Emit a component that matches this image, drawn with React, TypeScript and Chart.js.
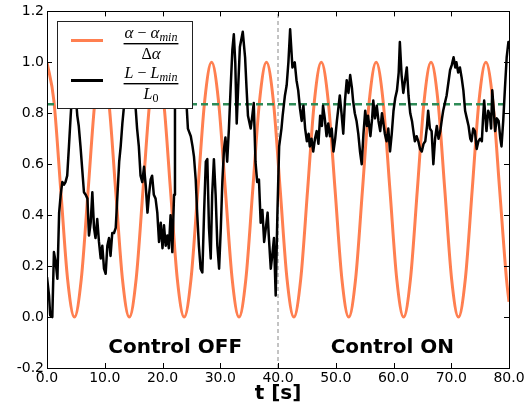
import React, { useEffect, useRef } from "react";
import { Chart, registerables } from "chart.js";
Chart.register(...registerables);

// ---- data ----
const blackT = [
  0.0, 0.35, 0.55, 0.92, 1.2, 1.5, 1.8, 2.1, 2.37, 2.65,
  2.94, 3.2, 3.5, 3.8, 4.1, 4.4, 4.7, 5.0, 5.25, 5.5,
  5.8, 6.1, 6.4, 6.7, 7.0, 7.27, 7.56, 7.85, 8.14, 8.4,
  8.7, 9.0, 9.3, 9.58, 9.87, 10.16, 10.45, 10.74, 11.0, 11.3,
  11.6, 11.9, 12.2, 12.5, 12.76, 13.05, 13.3, 13.7, 14.2, 14.7,
  15.35, 15.6, 15.9, 16.2, 16.5, 16.8, 17.1, 17.4, 17.66, 17.95,
  18.2, 18.5, 18.8, 19.1, 19.4, 19.7, 20.0, 20.26, 20.55, 20.84,
  21.1, 21.4, 21.7, 22.0, 22.16, 22.5, 23.0, 23.6, 24.2, 24.4,
  24.9, 25.2, 25.45, 25.75, 26.0, 26.3, 26.6, 26.9, 27.2, 27.5,
  27.76, 28.05, 28.35, 28.6, 28.9, 29.2, 29.5, 29.8, 30.1, 30.36,
  30.65, 30.9, 31.2, 31.5, 31.8, 32.1, 32.35, 32.6, 32.85, 33.1,
  33.4, 33.9, 34.3, 34.55, 34.8, 35.27, 35.55, 35.8, 36.1, 36.4,
  36.7, 37.0, 37.3, 37.6, 37.9, 38.2, 38.4, 38.75, 39.0, 39.3,
  39.6, 39.9, 40.2, 40.6, 40.8,
  41.2, 41.5, 41.8, 42.1, 42.5, 42.9, 43.2, 43.5,
  43.8, 44.1, 44.4, 44.7, 45.0, 45.3, 45.5, 45.8, 46.1, 46.4, 46.7, 47.0, 47.3, 47.6, 47.8, 48.1, 48.4, 48.7, 49.0, 49.3,
  49.6, 49.9, 50.2, 50.5, 50.7, 51.0, 51.3, 51.6, 51.9, 52.2, 52.5, 52.8, 53.0, 53.3, 53.6, 53.9, 54.2, 54.5, 54.8, 55.1,
  55.4, 55.6, 56.0, 56.3, 56.5, 56.8, 57.1, 57.4, 57.7, 58.0, 58.2, 58.5, 58.8, 59.1, 59.4, 59.7, 60.0, 60.3, 60.6, 60.9,
  61.1, 61.4, 61.7, 62.0, 62.3, 62.6, 62.9, 63.2, 63.5, 63.7, 64.0, 64.3, 64.6, 64.9, 65.2, 65.5, 65.8, 66.0, 66.3, 66.6,
  66.9, 67.2, 67.5, 67.8, 68.1, 68.4, 68.6, 68.9, 69.2, 69.5, 69.8, 70.1, 70.4, 70.7, 70.9, 71.2, 71.5, 71.8, 72.1, 72.4,
  72.7, 73.0, 73.3, 73.5, 73.8, 74.1, 74.4, 74.7, 75.0, 75.3, 75.5, 75.7, 76.1, 76.4, 76.7, 76.9, 77.1, 77.4, 77.6, 77.9,
  78.2, 78.5, 78.7, 79.0, 79.3, 79.6, 79.9, 80.0,
];
const blackV = [
  0.157, 0.085, 0.007, 0.0, 0.255, 0.216, 0.15, 0.41, 0.48, 0.53,
  0.52, 0.53, 0.555, 0.67, 0.79, 0.9, 0.93, 0.86, 0.79, 0.75,
  0.67, 0.58, 0.49, 0.48, 0.465, 0.32, 0.37, 0.49, 0.35, 0.31,
  0.385, 0.295, 0.23, 0.28, 0.19, 0.17, 0.28, 0.31, 0.24, 0.33,
  0.33, 0.35, 0.48, 0.61, 0.67, 0.76, 0.82, 0.92, 0.97, 0.92,
  0.82, 0.74, 0.67, 0.555, 0.53, 0.59, 0.515, 0.41, 0.48, 0.54,
  0.555, 0.48, 0.465, 0.41, 0.295, 0.37, 0.27, 0.36, 0.28, 0.32,
  0.27, 0.4, 0.255, 0.48, 0.82, 0.98, 1.02, 0.95, 0.82, 0.74,
  0.71, 0.67, 0.63, 0.54, 0.41, 0.28, 0.19, 0.175, 0.41, 0.61,
  0.62, 0.35, 0.23, 0.48, 0.62, 0.48, 0.28, 0.19, 0.35, 0.53,
  0.66, 0.705, 0.61, 0.74, 0.9, 1.05, 1.11, 1.0, 0.76, 0.9,
  1.06, 1.12, 1.02, 0.9, 0.79, 0.74, 0.79, 0.84, 0.61, 0.53,
  0.54, 0.37, 0.42, 0.295, 0.35, 0.41, 0.32, 0.19, 0.24, 0.31,
  0.085, 0.41, 0.67, 0.74, 0.79,
  0.87, 0.91, 1.0, 1.13, 0.98, 1.0, 0.93, 0.89,
  0.82, 0.77, 0.83, 0.74, 0.69, 0.72, 0.67, 0.7, 0.65, 0.7, 0.73, 0.68, 0.79, 0.75, 0.83, 0.78, 0.71, 0.76, 0.71, 0.74,
  0.65, 0.7, 0.77, 0.83, 0.87, 0.8, 0.72, 0.85, 0.93, 0.88, 0.95, 0.9, 0.85, 0.8, 0.77, 0.72, 0.65, 0.6, 0.72, 0.81,
  0.75, 0.79, 0.71, 0.78, 0.85, 0.78, 0.83, 0.77, 0.73, 0.8, 0.77, 0.72, 0.69, 0.74, 0.65, 0.72, 0.81, 0.86, 0.89, 0.96,
  1.08, 0.95, 0.88, 0.93, 0.98, 0.87, 0.8, 0.77, 0.72, 0.69, 0.71, 0.69, 0.66, 0.65, 0.68, 0.69, 0.75, 0.81, 0.74, 0.73,
  0.6, 0.7, 0.75, 0.7, 0.73, 0.78, 0.81, 0.84, 0.87, 0.92, 0.97, 0.99, 1.02, 0.98, 1.0, 0.96, 0.98, 0.94, 0.89, 0.81,
  0.78, 0.75, 0.7, 0.69, 0.74, 0.73, 0.66, 0.69, 0.7, 0.69, 0.78, 0.85, 0.73, 0.81, 0.79, 0.74, 0.89, 0.8, 0.73, 0.78,
  0.77, 0.7, 0.67, 0.77, 0.9, 1.02, 1.08, 1.05,
];
const orangeT = [
  0, 1.19, 2.38, 3.56, 4.75, 5.94, 7.13, 8.31, 9.5, 10.69, 11.88, 13.06, 14.25, 15.44, 16.63, 17.81,
  19.0, 20.19, 21.38, 22.56, 23.75, 24.94, 26.13, 27.31, 28.5, 29.69, 30.88, 32.06, 33.25, 34.44, 35.63, 36.81,
  38.0, 39.19, 40.38, 41.56, 42.75, 43.94, 45.13, 46.31, 47.5, 48.69, 49.88, 51.06, 52.25, 53.44, 54.63, 55.81,
  57.0, 58.19, 59.38, 60.56, 61.75, 62.94, 64.13, 65.31, 66.5, 67.69, 68.88, 70.06, 71.25, 72.44, 73.63, 74.81,
  76.0, 77.19, 78.38, 79.56, 80.0,
];
const orangeV = [
  1, 0.85, 0.5, 0.15, 0, 0.15, 0.5, 0.85, 1, 0.85, 0.5, 0.15, 0, 0.15, 0.5, 0.85,
  1, 0.85, 0.5, 0.15, 0, 0.15, 0.5, 0.85, 1, 0.85, 0.5, 0.15, 0, 0.15, 0.5, 0.85,
  1, 0.85, 0.5, 0.15, 0, 0.15, 0.5, 0.85, 1, 0.85, 0.5, 0.15, 0, 0.15, 0.5, 0.85,
  1, 0.85, 0.5, 0.15, 0, 0.15, 0.5, 0.85, 1, 0.85, 0.5, 0.15, 0, 0.15, 0.5, 0.85,
  1, 0.85, 0.5, 0.15, 0.06,
];
const greenLevel = 0.835;
const switchTime = 40;
const xRange = [0, 80];
const yRange = [-0.2, 1.2];
const xTickValues = [0, 10, 20, 30, 40, 50, 60, 70, 80];
const yTickValues = [-0.2, 0, 0.2, 0.4, 0.6, 0.8, 1.0, 1.2];
const xTitle = "t [s]";
const phaseLabels = ["Control OFF", "Control ON"];
const phaseLabelX = [22.2, 59.8];
const phaseLabelY = [-0.12, -0.12];

const ORANGE = "#ff7f50";
const GREEN = "#2e8b57";
const SANS = "'DejaVu Sans', sans-serif";
const SERIF = "'Liberation Serif', serif";

type Run = { t: string; size: number; italic: boolean; dy: number };

function drawRuns(ctx: CanvasRenderingContext2D, runs: Run[], cx: number, base: number) {
  const widths = runs.map((r) => {
    ctx.font = `${r.italic ? "italic " : ""}${r.size}px ${SERIF}`;
    return ctx.measureText(r.t).width;
  });
  const total = widths.reduce((a, b) => a + b, 0);
  let x = cx - total / 2;
  runs.forEach((r, i) => {
    ctx.font = `${r.italic ? "italic " : ""}${r.size}px ${SERIF}`;
    ctx.fillText(r.t, x, base + r.dy);
    x += widths[i];
  });
  return total;
}

export default function App() {
  const ref = useRef<HTMLCanvasElement>(null);
  useEffect(() => {
    document.body.style.margin = "0";
    const canvas = ref.current!;
    const overlay = {
      id: "overlay",
      afterDatasetsDraw(chart: any) {
        const { ctx, chartArea: a, scales } = chart;
        const xs = scales.x;
        const ys = scales.y;
        ctx.save();
        // phase labels
        ctx.fillStyle = "#000";
        ctx.font = `bold 20px ${SANS}`;
        ctx.textAlign = "center";
        ctx.textBaseline = "middle";
        phaseLabels.forEach((t, i) => {
          ctx.fillText(t, xs.getPixelForValue(phaseLabelX[i]), ys.getPixelForValue(phaseLabelY[i]));
        });
        // frame
        ctx.strokeStyle = "#000";
        ctx.lineWidth = 1;
        ctx.strokeRect(Math.round(a.left) + 0.5, Math.round(a.top) + 0.5, Math.round(a.right - a.left), Math.round(a.bottom - a.top));
        const line = (x1: number, y1: number, x2: number, y2: number) => {
          ctx.beginPath();
          ctx.moveTo(x1, y1);
          ctx.lineTo(x2, y2);
          ctx.stroke();
        };
        xTickValues.forEach((v) => {
          const p = Math.round(xs.getPixelForValue(v)) + 0.5;
          line(p, a.bottom, p, a.bottom - 5);
          line(p, a.top, p, a.top + 5);
        });
        yTickValues.forEach((v) => {
          const p = Math.round(ys.getPixelForValue(v)) + 0.5;
          line(a.left, p, a.left + 5, p);
          line(a.right, p, a.right - 5, p);
        });
        // legend
        const bx = Math.round(a.left) + 10;
        const by = Math.round(a.top) + 10;
        const bw = 135;
        const bh = 87;
        ctx.fillStyle = "#fff";
        ctx.fillRect(bx, by, bw, bh);
        ctx.strokeStyle = "#222";
        ctx.strokeRect(bx + 0.5, by + 0.5, bw, bh);
        ctx.lineWidth = 3;
        ctx.strokeStyle = ORANGE;
        line(bx + 14, by + 19.5, bx + 46, by + 19.5);
        ctx.strokeStyle = "#000";
        line(bx + 14, by + 59.5, bx + 46, by + 59.5);
        ctx.fillStyle = "#000";
        ctx.textAlign = "left";
        ctx.textBaseline = "alphabetic";
        const cx = bx + 94;
        const w1 = drawRuns(ctx, [
          { t: "α", size: 17, italic: true, dy: 0 },
          { t: " − ", size: 16, italic: false, dy: 0 },
          { t: "α", size: 17, italic: true, dy: 0 },
          { t: "min", size: 12, italic: true, dy: 3 },
        ], cx, by + 17);
        ctx.fillRect(cx - w1 / 2 - 1, by + 22, w1 + 2, 1.4);
        drawRuns(ctx, [
          { t: "Δ", size: 16, italic: false, dy: 0 },
          { t: "α", size: 17, italic: true, dy: 0 },
        ], cx, by + 38);
        const w2 = drawRuns(ctx, [
          { t: "L", size: 16, italic: true, dy: 0 },
          { t: " − ", size: 16, italic: false, dy: 0 },
          { t: "L", size: 16, italic: true, dy: 0 },
          { t: "min", size: 12, italic: true, dy: 3 },
        ], cx, by + 57);
        ctx.fillRect(cx - w2 / 2 - 1, by + 62, w2 + 2, 1.4);
        drawRuns(ctx, [
          { t: "L", size: 16, italic: true, dy: 0 },
          { t: "0", size: 12, italic: false, dy: 3 },
        ], cx, by + 78);
        ctx.restore();
      },
    };
    const tickFont = { family: SANS, size: 14 };
    const chart = new Chart(canvas, {
      type: "line",
      data: {
        datasets: [
          {
            label: "L",
            data: blackT.map((t, i) => ({ x: t, y: blackV[i] })),
            borderColor: "#000",
            borderWidth: 2.5,
            pointRadius: 0,
            tension: 0,
            borderJoinStyle: "round",
            order: 0,
          },
          {
            label: "mean",
            data: [{ x: xRange[0], y: greenLevel }, { x: xRange[1], y: greenLevel }],
            borderColor: GREEN,
            borderWidth: 2.5,
            borderDash: [7, 4],
            pointRadius: 0,
            order: 1,
          },
          {
            label: "alpha",
            data: orangeT.map((t, i) => ({ x: t, y: orangeV[i] })),
            borderColor: ORANGE,
            borderWidth: 3,
            pointRadius: 0,
            cubicInterpolationMode: "monotone",
            order: 2,
          },
          {
            label: "switch",
            data: [{ x: switchTime, y: yRange[0] }, { x: switchTime, y: yRange[1] }],
            borderColor: "#888",
            borderWidth: 1,
            borderDash: [4, 3],
            pointRadius: 0,
            order: 3,
          },
        ],
      },
      options: {
        animation: false,
        responsive: true,
        maintainAspectRatio: false,
        layout: { padding: { top: 10, right: 19, left: 0, bottom: 0 } },
        plugins: { legend: { display: false }, tooltip: { enabled: false } },
        scales: {
          x: {
            type: "linear",
            min: xRange[0],
            max: xRange[1],
            afterFit: (s: any) => { s.height = 49; },
            afterBuildTicks: (s: any) => { s.ticks = xTickValues.map((v) => ({ value: v })); },
            ticks: { font: tickFont, color: "#000", padding: 2, maxRotation: 0, autoSkip: false, callback: (v: any) => Number(v).toFixed(1) },
            grid: { display: false, drawTicks: false },
            border: { display: false },
            title: { display: true, text: xTitle, color: "#000", font: { family: SANS, size: 20, weight: "bold" }, padding: { top: 0, bottom: 11 } },
          },
          y: {
            type: "linear",
            min: yRange[0],
            max: yRange[1],
            afterFit: (s: any) => { s.width = 47; },
            afterBuildTicks: (s: any) => { s.ticks = yTickValues.map((v) => ({ value: v })); },
            ticks: { font: tickFont, color: "#000", padding: 3, autoSkip: false, callback: (v: any) => Number(v).toFixed(1) },
            grid: { display: false, drawTicks: false },
            border: { display: false },
          },
        },
      },
      plugins: [overlay],
    } as any);
    return () => chart.destroy();
  }, []);
  return (
    <div style={{ position: "fixed", left: 0, top: 0, width: 528, height: 417 }}>
      <canvas ref={ref} />
    </div>
  );
}
